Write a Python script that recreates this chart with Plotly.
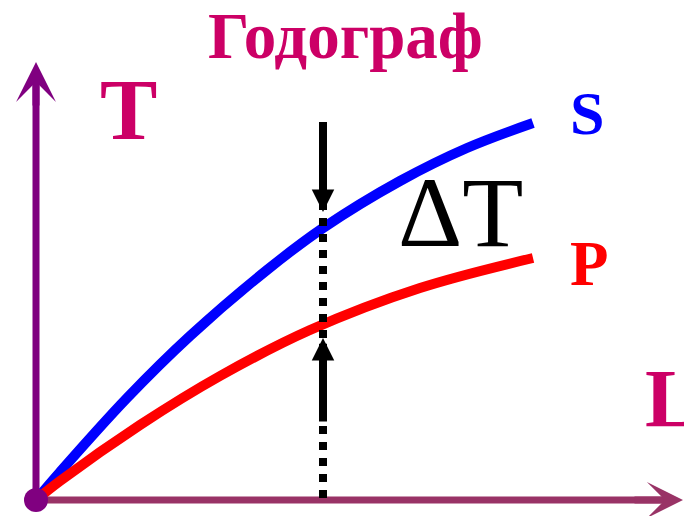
import plotly.graph_objects as go

# Hodograph data (distance L vs travel time T, arbitrary units)
L_S = [0, 24, 91, 154, 231, 287, 364, 431, 497]
T_S = [0, 28, 102, 164, 230, 272, 319, 352, 377]
L_P = [0, 24, 104, 184, 274, 384, 497]
T_P = [0, 19, 75, 124, 170, 212, 242]

# Cut line (where ΔT is measured)
L_CUT = 287
T_CUT = [2, 378]
T_ARROW_TOP = [378, 288]   # tail, tip
T_ARROW_BOT = [77, 162]    # tail, tip

# Axis extents
L_AXIS_END = 647
T_AXIS_END = 438

TITLE = "Годограф"
FONT = "Liberation Serif"
PINK = "#CC0066"

fig = go.Figure()

fig.add_trace(go.Scatter(x=L_S, y=T_S, mode="lines", line=dict(color="#0000FF", width=10, shape="spline", smoothing=1.0), hoverinfo="skip"))
fig.add_trace(go.Scatter(x=L_P, y=T_P, mode="lines", line=dict(color="#FF0000", width=10, shape="spline", smoothing=1.0), hoverinfo="skip"))
fig.add_trace(go.Scatter(x=[L_CUT, L_CUT], y=T_CUT, mode="lines", line=dict(color="black", width=8, dash="dot"), hoverinfo="skip"))
fig.add_trace(go.Scatter(x=[0], y=[0], mode="markers", marker=dict(color="#800080", size=24), hoverinfo="skip"))

# axis lines
fig.add_shape(type="line", x0=0, y0=0, x1=0, y1=T_AXIS_END - 20, line=dict(color="#800080", width=7), layer="below")
fig.add_shape(type="line", x0=0, y0=0, x1=L_AXIS_END - 20, y1=0, line=dict(color="#993366", width=7), layer="below")

ann = []
# axis arrowheads
ann.append(dict(x=0, y=T_AXIS_END, ax=0, ay=T_AXIS_END - 45, xref="x", yref="y", axref="x", ayref="y",
                text="", showarrow=True, arrowhead=3, arrowwidth=7, arrowsize=0.95, arrowcolor="#800080", standoff=0))
ann.append(dict(x=L_AXIS_END, y=0, ax=L_AXIS_END - 50, ay=0, xref="x", yref="y", axref="x", ayref="y",
                text="", showarrow=True, arrowhead=3, arrowwidth=7, arrowsize=0.86, arrowcolor="#993366", standoff=0))
# ΔT arrows
ann.append(dict(x=L_CUT, y=T_ARROW_TOP[1], ax=L_CUT, ay=T_ARROW_TOP[0], xref="x", yref="y", axref="x", ayref="y",
                text="", showarrow=True, arrowhead=2, arrowwidth=8, arrowsize=0.5625, arrowcolor="black", standoff=0))
ann.append(dict(x=L_CUT, y=T_ARROW_BOT[1], ax=L_CUT, ay=T_ARROW_BOT[0], xref="x", yref="y", axref="x", ayref="y",
                text="", showarrow=True, arrowhead=2, arrowwidth=8, arrowsize=0.5625, arrowcolor="black", standoff=0))

# labels
ann.append(dict(x=309, y=464, xref="x", yref="y", text="<b>" + TITLE + "</b>", showarrow=False,
                font=dict(family=FONT, size=65, color=PINK), xanchor="center", yanchor="middle"))
ann.append(dict(x=92, y=390, xref="x", yref="y", text="<b>T</b>", showarrow=False,
                font=dict(family=FONT, size=86, color=PINK), xanchor="center", yanchor="middle"))
ann.append(dict(x=551, y=387, xref="x", yref="y", text="<b>S</b>", showarrow=False,
                font=dict(family=FONT, size=62, color="#0000FF"), xanchor="center", yanchor="middle"))
ann.append(dict(x=553, y=236, xref="x", yref="y", text="<b>P</b>", showarrow=False,
                font=dict(family=FONT, size=63, color="#FF0000"), xanchor="center", yanchor="middle"))
ann.append(dict(x=424, y=288, xref="x", yref="y", text="ΔT", showarrow=False,
                font=dict(family=FONT, size=100, color="black"), xanchor="center", yanchor="middle"))
ann.append(dict(x=607, y=102, xref="x", yref="y", text="<b>L</b>", showarrow=False,
                font=dict(family=FONT, size=83, color=PINK), xanchor="left", yanchor="middle"))

fig.update_layout(
    width=684, height=516, margin=dict(l=0, r=0, t=0, b=0),
    paper_bgcolor="white", plot_bgcolor="white", showlegend=False,
    xaxis=dict(range=[-36, 648], visible=False, fixedrange=True),
    yaxis=dict(range=[-16, 500], visible=False, fixedrange=True),
    annotations=ann,
)

fig.write_html("out.html", config={"displayModeBar": False},
               post_script="document.body.style.margin='0';document.body.style.overflow='hidden';")
